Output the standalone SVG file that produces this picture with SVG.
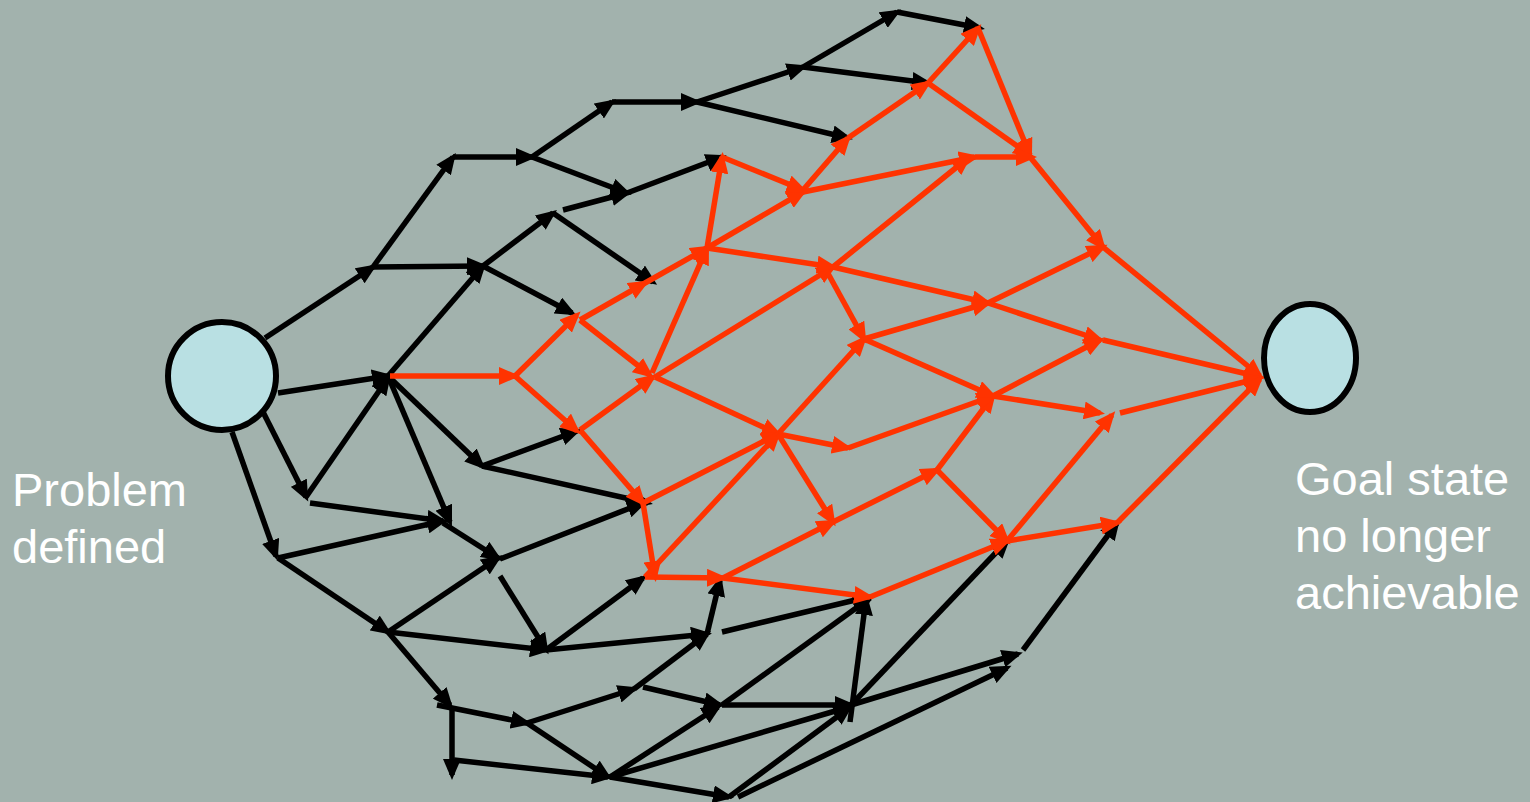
<svg xmlns="http://www.w3.org/2000/svg" width="1530" height="802" viewBox="0 0 1530 802">
<style>
.k{stroke:#000;stroke-width:5.5;fill:none;marker-end:url(#ak)}
.r{stroke:#ff3300;stroke-width:5.5;fill:none;marker-end:url(#ar)}
.node{fill:#b9e0e3;stroke:#000;stroke-width:6}
.lbl{font-family:"Liberation Sans",Arial,sans-serif;font-size:47px;fill:#fff}
</style>
<defs>
<marker id="ak" markerWidth="22" markerHeight="18" refX="16" refY="9" orient="auto" markerUnits="userSpaceOnUse"><path d="M0,0 L21,9 L0,18 z" fill="#000"/></marker>
<marker id="ar" markerWidth="22" markerHeight="18" refX="16" refY="9" orient="auto" markerUnits="userSpaceOnUse"><path d="M0,0 L21,9 L0,18 z" fill="#ff3300"/></marker>
</defs>
<rect width="1530" height="802" fill="#a2b2ad"/>
<g id="connectors">
<g id="black">
<line class="k" x1="265" y1="338" x2="373" y2="267"/>
<line class="k" x1="278" y1="393" x2="388" y2="376"/>
<line class="k" x1="262" y1="410" x2="306" y2="497"/>
<line class="k" x1="232" y1="432" x2="276" y2="556"/>
<line class="k" x1="373" y1="267" x2="453" y2="157"/>
<line class="k" x1="373" y1="267" x2="483" y2="266"/>
<line class="k" x1="388" y1="376" x2="483" y2="266"/>
<line class="k" x1="306" y1="497" x2="388" y2="378"/>
<line class="k" x1="453" y1="157" x2="532" y2="157"/>
<line class="k" x1="532" y1="157" x2="612" y2="102"/>
<line class="k" x1="532" y1="157" x2="627" y2="193"/>
<line class="k" x1="612" y1="102" x2="697" y2="102"/>
<line class="k" x1="697" y1="102" x2="803" y2="67"/>
<line class="k" x1="697" y1="102" x2="848" y2="138"/>
<line class="k" x1="803" y1="67" x2="897" y2="12"/>
<line class="k" x1="803" y1="67" x2="928" y2="83"/>
<line class="k" x1="897" y1="12" x2="980" y2="28"/>
<line class="k" x1="483" y1="266" x2="553" y2="213"/>
<line class="k" x1="563" y1="210" x2="627" y2="193"/>
<line class="k" x1="553" y1="213" x2="653" y2="282"/>
<line class="k" x1="483" y1="266" x2="572" y2="313"/>
<line class="k" x1="627" y1="193" x2="722" y2="157"/>
<line class="k" x1="388" y1="376" x2="450" y2="522"/>
<line class="k" x1="388" y1="376" x2="482" y2="466"/>
<line class="k" x1="310" y1="503" x2="443" y2="521"/>
<line class="k" x1="278" y1="558" x2="443" y2="521"/>
<line class="k" x1="443" y1="523" x2="498" y2="558"/>
<line class="k" x1="482" y1="466" x2="577" y2="431"/>
<line class="k" x1="482" y1="466" x2="648" y2="503"/>
<line class="k" x1="278" y1="558" x2="388" y2="632"/>
<line class="k" x1="388" y1="632" x2="498" y2="558"/>
<line class="k" x1="500" y1="559" x2="643" y2="503"/>
<line class="k" x1="500" y1="576" x2="546" y2="650"/>
<line class="k" x1="388" y1="632" x2="546" y2="650"/>
<line class="k" x1="388" y1="632" x2="450" y2="705"/>
<line class="k" x1="437" y1="705" x2="527" y2="723"/>
<line class="k" x1="452" y1="706" x2="452" y2="775"/>
<line class="k" x1="454" y1="760" x2="608" y2="777"/>
<line class="k" x1="527" y1="723" x2="608" y2="777"/>
<line class="k" x1="527" y1="723" x2="634" y2="689"/>
<line class="k" x1="546" y1="650" x2="643" y2="578"/>
<line class="k" x1="546" y1="650" x2="707" y2="634"/>
<line class="k" x1="634" y1="689" x2="707" y2="634"/>
<line class="k" x1="643" y1="687" x2="720" y2="705"/>
<line class="k" x1="707" y1="634" x2="720" y2="580"/>
<line class="k" x1="722" y1="632" x2="868" y2="597"/>
<line class="k" x1="722" y1="705" x2="870" y2="598"/>
<line class="k" x1="722" y1="705" x2="851" y2="705"/>
<line class="k" x1="850" y1="722" x2="866" y2="599"/>
<line class="k" x1="851" y1="705" x2="1007" y2="541"/>
<line class="k" x1="851" y1="705" x2="1018" y2="654"/>
<line class="k" x1="1023" y1="650" x2="1117" y2="523"/>
<line class="k" x1="610" y1="777" x2="718" y2="707"/>
<line class="k" x1="610" y1="777" x2="849" y2="707"/>
<line class="k" x1="610" y1="777" x2="729" y2="797"/>
<line class="k" x1="729" y1="797" x2="849" y2="708"/>
<line class="k" x1="738" y1="797" x2="1007" y2="668"/>
</g>
<g id="red">
<line class="r" x1="390" y1="376" x2="515" y2="376"/>
<line class="r" x1="515" y1="376" x2="577" y2="315"/>
<line class="r" x1="515" y1="376" x2="577" y2="431"/>
<line class="r" x1="580" y1="320" x2="645" y2="283"/>
<line class="r" x1="580" y1="320" x2="650" y2="375"/>
<line class="r" x1="645" y1="283" x2="707" y2="248"/>
<line class="r" x1="580" y1="430" x2="653" y2="377"/>
<line class="r" x1="580" y1="430" x2="643" y2="503"/>
<line class="r" x1="652" y1="373" x2="707" y2="248"/>
<line class="r" x1="655" y1="377" x2="778" y2="434"/>
<line class="r" x1="655" y1="377" x2="833" y2="267"/>
<line class="r" x1="707" y1="248" x2="722" y2="157"/>
<line class="r" x1="707" y1="248" x2="803" y2="192"/>
<line class="r" x1="707" y1="248" x2="833" y2="267"/>
<line class="r" x1="722" y1="157" x2="803" y2="190"/>
<line class="r" x1="803" y1="190" x2="848" y2="138"/>
<line class="r" x1="803" y1="192" x2="975" y2="157"/>
<line class="r" x1="848" y1="138" x2="928" y2="83"/>
<line class="r" x1="928" y1="83" x2="978" y2="28"/>
<line class="r" x1="928" y1="83" x2="1030" y2="155"/>
<line class="r" x1="978" y1="28" x2="1030" y2="155"/>
<line class="r" x1="975" y1="157" x2="1032" y2="157"/>
<line class="r" x1="1030" y1="157" x2="1103" y2="247"/>
<line class="r" x1="833" y1="267" x2="968" y2="158"/>
<line class="r" x1="833" y1="267" x2="988" y2="303"/>
<line class="r" x1="825" y1="268" x2="864" y2="339"/>
<line class="r" x1="643" y1="503" x2="655" y2="577"/>
<line class="r" x1="643" y1="503" x2="778" y2="434"/>
<line class="r" x1="645" y1="577" x2="778" y2="434"/>
<line class="r" x1="645" y1="577" x2="723" y2="578"/>
<line class="r" x1="778" y1="434" x2="864" y2="339"/>
<line class="r" x1="778" y1="434" x2="848" y2="448"/>
<line class="r" x1="778" y1="434" x2="833" y2="522"/>
<line class="r" x1="723" y1="578" x2="833" y2="522"/>
<line class="r" x1="723" y1="578" x2="870" y2="597"/>
<line class="r" x1="870" y1="597" x2="1007" y2="541"/>
<line class="r" x1="833" y1="522" x2="937" y2="470"/>
<line class="r" x1="937" y1="470" x2="993" y2="396"/>
<line class="r" x1="937" y1="470" x2="1007" y2="541"/>
<line class="r" x1="848" y1="448" x2="993" y2="396"/>
<line class="r" x1="864" y1="339" x2="988" y2="303"/>
<line class="r" x1="864" y1="339" x2="993" y2="396"/>
<line class="r" x1="988" y1="303" x2="1103" y2="247"/>
<line class="r" x1="988" y1="303" x2="1100" y2="340"/>
<line class="r" x1="993" y1="396" x2="1100" y2="340"/>
<line class="r" x1="993" y1="396" x2="1100" y2="413"/>
<line class="r" x1="1007" y1="541" x2="1112" y2="415"/>
<line class="r" x1="1007" y1="541" x2="1117" y2="523"/>
<line class="r" x1="1103" y1="247" x2="1260" y2="376"/>
<line class="r" x1="1103" y1="340" x2="1260" y2="377"/>
<line class="r" x1="1120" y1="413" x2="1260" y2="378"/>
<line class="r" x1="1117" y1="523" x2="1260" y2="379"/>
</g>
</g>
<g id="start">
<circle class="node" cx="222" cy="376" r="54"/>
<text class="lbl" x="12" y="506">Problem</text>
<text class="lbl" x="12" y="563">defined</text>
</g>
<g id="goal">
<ellipse class="node" cx="1310" cy="358" rx="46" ry="54"/>
<text class="lbl" x="1295" y="495">Goal state</text>
<text class="lbl" x="1295" y="552">no longer</text>
<text class="lbl" x="1295" y="609">achievable</text>
</g>
</svg>
